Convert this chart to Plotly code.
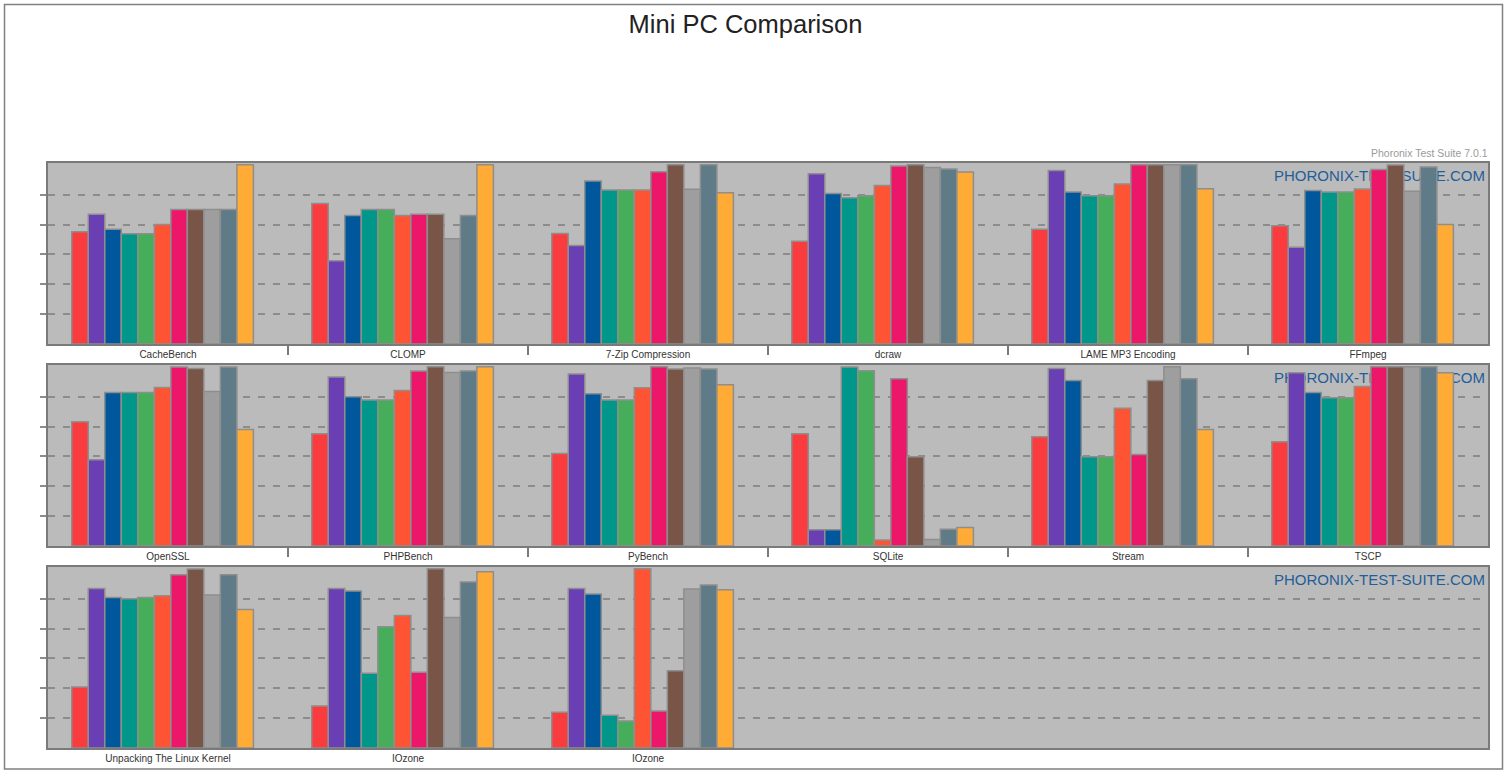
import plotly.graph_objects as go

TITLE = "Mini PC Comparison"
VERSION_TEXT = "Phoronix Test Suite 7.0.1"
WATERMARK = "PHORONIX-TEST-SUITE.COM"

ROW1_TESTS = ["CacheBench", "CLOMP", "7-Zip Compression", "dcraw", "LAME MP3 Encoding", "FFmpeg"]
ROW2_TESTS = ["OpenSSL", "PHPBench", "PyBench", "SQLite", "Stream", "TSCP"]
ROW3_TESTS = ["Unpacking The Linux Kernel", "IOzone", "IOzone"]

# relative result of the 11 systems in each test (panel scale 0-6)
cachebench = [3.76, 4.34, 3.84, 3.69, 3.69, 4.00, 4.50, 4.50, 4.50, 4.50, 6.00]
clomp = [4.70, 2.79, 4.30, 4.50, 4.50, 4.30, 4.34, 4.34, 3.52, 4.30, 6.00]
zip7 = [3.70, 3.30, 5.46, 5.16, 5.16, 5.16, 5.77, 6.00, 5.18, 6.00, 5.06]
dcraw = [3.44, 5.70, 5.04, 4.90, 4.96, 5.31, 5.96, 6.00, 5.91, 5.86, 5.76]
lame = [3.84, 5.81, 5.09, 4.96, 4.96, 5.36, 6.00, 6.00, 6.00, 6.00, 5.20]
ffmpeg = [3.96, 3.24, 5.14, 5.09, 5.09, 5.19, 5.84, 5.99, 5.11, 5.93, 4.00]
openssl = [4.16, 2.89, 5.14, 5.14, 5.14, 5.31, 5.99, 5.94, 5.17, 5.99, 3.90]
phpbench = [3.76, 5.66, 5.00, 4.89, 4.89, 5.21, 5.86, 6.00, 5.81, 5.86, 6.00]
pybench = [3.10, 5.76, 5.10, 4.89, 4.89, 5.30, 6.00, 5.93, 5.96, 5.93, 5.40]
sqlite = [3.76, 0.54, 0.54, 5.99, 5.87, 0.20, 5.60, 2.99, 0.22, 0.56, 0.62]
stream = [3.66, 5.94, 5.54, 2.99, 2.99, 4.61, 3.06, 5.54, 6.00, 5.60, 3.90]
tscp = [3.49, 5.80, 5.14, 4.96, 4.96, 5.34, 6.00, 6.00, 6.00, 6.00, 5.80]
unpack_kernel = [2.04, 5.34, 5.04, 5.00, 5.04, 5.10, 5.80, 5.99, 5.12, 5.80, 4.64]
iozone_a = [1.41, 5.34, 5.26, 2.50, 4.06, 4.44, 2.54, 6.00, 4.37, 5.56, 5.90]
iozone_b = [1.20, 5.34, 5.16, 1.10, 0.90, 6.00, 1.24, 2.59, 5.32, 5.46, 5.30]

ROW1_VALUES = [cachebench, clomp, zip7, dcraw, lame, ffmpeg]
ROW2_VALUES = [openssl, phpbench, pybench, sqlite, stream, tscp]
ROW3_VALUES = [unpack_kernel, iozone_a, iozone_b]

SYSTEM_COLORS = ["#FB3C3F", "#6A3FB3", "#01579B", "#00968A", "#46AE5A", "#FF5433",
                 "#EC1769", "#795548", "#9E9E9E", "#5F7B87", "#FFAB36"]

W, H = 1507, 775
FONT = "Liberation Sans, Arial, sans-serif"
BAR_W = 0.0688
FIRST_OFFSET = -0.401


def px_x(p):
    return p / W


def px_y(p):
    return 1 - p / H


rows = [
    (ROW1_TESTS, ROW1_VALUES, 163, 344, True),
    (ROW2_TESTS, ROW2_VALUES, 365, 546, True),
    (ROW3_TESTS, ROW3_VALUES, 567, 748, False),
]

fig = go.Figure()
layout_axes = {}
shapes = []

for r, (tests, values, top, bottom, sep_ticks) in enumerate(rows):
    sfx = "" if r == 0 else str(r + 1)
    xa, ya = "x" + sfx, "y" + sfx
    for j, color in enumerate(SYSTEM_COLORS):
        fig.add_trace(go.Bar(
            x=list(range(len(tests))),
            y=[v[j] for v in values],
            width=BAR_W,
            offset=FIRST_OFFSET + j * BAR_W,
            marker=dict(color=color, line=dict(color="#8E8E8E", width=1.5)),
            xaxis=xa, yaxis=ya, showlegend=False,
        ))
    xaxis = dict(
        domain=[px_x(48), px_x(1488)], anchor=ya, range=[-0.5, 5.5],
        tickmode="array", tickvals=list(range(len(tests))), ticktext=tests,
        ticks="", showgrid=False, zeroline=False,
        showline=True, mirror=True, linecolor="#7A7A7A", linewidth=2,
        tickfont=dict(family=FONT, size=10, color="#333333"),
        fixedrange=True,
    )
    if sep_ticks:
        xaxis["minor"] = dict(tickmode="array", tickvals=[i + 0.5 for i in range(5)],
                              ticks="outside", ticklen=9, tickwidth=1.5,
                              tickcolor="#7A7A7A", showgrid=False)
    yaxis = dict(
        domain=[px_y(bottom), px_y(top)], anchor=xa, range=[0, 6.06],
        tickmode="array", tickvals=[1, 2, 3, 4, 5], showticklabels=False,
        ticks="outside", ticklen=6, tickwidth=2, tickcolor="#8C8C8C",
        showgrid=True, gridcolor="#8C8C8C", gridwidth=2, griddash="7px,8px",
        showline=True, mirror=True, linecolor="#7A7A7A", linewidth=2,
        zeroline=False, fixedrange=True,
    )
    layout_axes["xaxis" + sfx] = xaxis
    layout_axes["yaxis" + sfx] = yaxis
    shapes.append(dict(
        type="rect", xref=xa + " domain", yref=ya + " domain",
        x0=0, x1=1.002, y0=0, y1=1, layer="below",
        line=dict(width=0), fillcolor="rgba(0,0,0,0)",
        label=dict(text=WATERMARK, textposition="top right", padding=3,
                   font=dict(family=FONT, size=15, color="#1F5E99")),
    ))

shapes.append(dict(type="rect", xref="paper", yref="paper",
                   x0=px_x(4.5), x1=px_x(1502.5), y0=px_y(769), y1=px_y(4.5),
                   line=dict(color="#808080", width=1.5), fillcolor="rgba(0,0,0,0)"))

fig.update_layout(
    width=W, height=H,
    margin=dict(l=0, r=0, t=0, b=0),
    paper_bgcolor="white", plot_bgcolor="#BBBBBB",
    barmode="overlay",
    title=dict(text=TITLE, x=px_x(745.5), y=px_y(24), xanchor="center", yanchor="middle",
               xref="paper", yref="paper",
               font=dict(family=FONT, size=25.5, color="#222222")),
    annotations=[dict(text=VERSION_TEXT, xref="paper", yref="paper",
                      x=px_x(1490), y=px_y(153.5), xanchor="right", yanchor="middle",
                      showarrow=False, font=dict(family=FONT, size=10.5, color="#9A9A9A"))],
    shapes=shapes,
    **layout_axes,
)

fig.write_html("out.html", config={"displayModeBar": False},
               post_script="document.body.style.margin='0';")
